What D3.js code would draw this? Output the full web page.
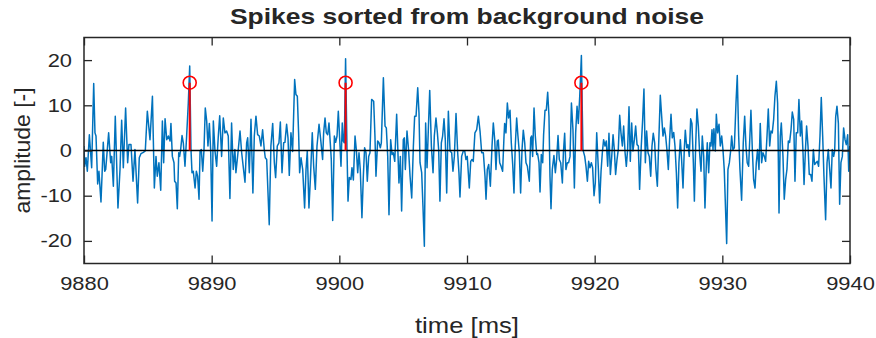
<!DOCTYPE html>
<html>
<head>
<meta charset="utf-8">
<script src="https://cdn.jsdelivr.net/npm/d3@7"></script>
<style>
  body { margin: 0; background: #fff; }
  svg { display: block; }
  text { font-family: "Liberation Sans", Arial, Helvetica, sans-serif; fill: #262626; }
</style>
</head>
<body>
<svg id="chart" width="876" height="338"></svg>
<script>
// Recorded trace (ms, arbitrary amplitude units)
const sigTime = [
  9880.00, 9880.05, 9880.16, 9880.26, 9880.42, 9880.60, 9880.76, 9880.86, 9880.94, 9881.07,
  9881.17, 9881.33, 9881.41, 9881.51, 9881.62, 9881.70, 9881.93, 9882.09, 9882.17, 9882.30,
  9882.45, 9882.66, 9882.82, 9882.95, 9883.08, 9883.26, 9883.42, 9883.52, 9883.68, 9883.84,
  9883.99, 9884.20, 9884.33, 9884.46, 9884.65, 9884.80, 9884.96, 9885.17,
  9885.36, 9885.51, 9885.64, 9885.74, 9885.87, 9886.01, 9886.14, 9886.24, 9886.35, 9886.48,
  9886.61, 9886.74, 9886.81, 9886.92, 9887.05, 9887.10, 9887.21, 9887.31, 9887.42, 9887.49,
  9887.57, 9887.68, 9887.78, 9887.91, 9888.04, 9888.17, 9888.28, 9888.38, 9888.46, 9888.56,
  9888.70, 9888.80, 9888.90, 9889.01, 9889.09, 9889.19, 9889.30, 9889.40, 9889.50, 9889.61,
  9889.71, 9889.82, 9889.92, 9890.03, 9890.13, 9890.26, 9890.39, 9890.52, 9890.63,
  9890.78, 9890.91, 9891.04, 9891.17, 9891.30, 9891.43, 9891.56, 9891.69, 9891.82, 9891.90,
  9892.06, 9892.22, 9892.35, 9892.48, 9892.61, 9892.74, 9892.82, 9892.95, 9893.08, 9893.23,
  9893.34, 9893.47, 9893.60, 9893.73, 9893.86, 9893.99, 9894.12, 9894.20, 9894.31, 9894.51,
  9894.64, 9894.78, 9894.91, 9895.01, 9895.14, 9895.27, 9895.38, 9895.51, 9895.64, 9895.74,
  9895.87, 9895.98, 9896.08, 9896.21,
  9896.34, 9896.50, 9896.60, 9896.71, 9896.81, 9896.89, 9897.00, 9897.13, 9897.28, 9897.39,
  9897.49, 9897.62, 9897.73, 9897.88, 9897.99, 9898.12, 9898.25, 9898.41, 9898.54, 9898.69,
  9898.77, 9898.88, 9898.98, 9899.09, 9899.19, 9899.29, 9899.37, 9899.48, 9899.61, 9899.71,
  9899.82, 9899.92, 9900.03, 9900.13, 9900.23, 9900.31, 9900.39, 9900.49, 9900.60, 9900.68,
  9900.78, 9900.91, 9900.99, 9901.10, 9901.23, 9901.33, 9901.44, 9901.54, 9901.64, 9901.77,
  9901.88, 9901.98, 9902.09, 9902.19, 9902.30, 9902.40, 9902.53, 9902.69, 9902.79, 9902.87,
  9903.00, 9903.11, 9903.21, 9903.29, 9903.45, 9903.58, 9903.68, 9903.79, 9903.89, 9904.02,
  9904.13, 9904.23, 9904.34, 9904.49, 9904.60, 9904.67, 9904.78, 9904.88, 9905.01, 9905.09,
  9905.17, 9905.30, 9905.43, 9905.54, 9905.67, 9905.80, 9905.90, 9906.01, 9906.14, 9906.24,
  9906.32, 9906.45, 9906.55, 9906.66, 9906.76, 9906.87, 9906.97, 9907.08, 9907.21,
  9907.34, 9907.44, 9907.57, 9907.68, 9907.78, 9907.88, 9907.99, 9908.09, 9908.20, 9908.30,
  9908.41, 9908.54, 9908.67, 9908.80, 9908.90, 9909.01, 9909.14, 9909.27, 9909.37, 9909.45,
  9909.58, 9909.71, 9909.82, 9909.92, 9910.02, 9910.18, 9910.29, 9910.39, 9910.49, 9910.62,
  9910.76, 9910.89, 9911.02, 9911.15, 9911.28, 9911.41, 9911.49, 9911.59, 9911.70, 9911.83,
  9911.96, 9912.06, 9912.17, 9912.27, 9912.37, 9912.45, 9912.56, 9912.66,
  9912.79, 9912.90, 9912.95, 9913.05, 9913.16, 9913.26, 9913.37, 9913.47, 9913.58, 9913.68,
  9913.78, 9913.89, 9913.99, 9914.10, 9914.20, 9914.31, 9914.41, 9914.52, 9914.62, 9914.73,
  9914.88, 9914.99, 9915.06, 9915.14, 9915.25, 9915.35, 9915.46, 9915.53, 9915.64, 9915.72,
  9915.82, 9915.93, 9916.00, 9916.11, 9916.21, 9916.32, 9916.42, 9916.50, 9916.58, 9916.68,
  9916.81, 9916.92, 9917.02, 9917.13, 9917.23, 9917.34, 9917.47, 9917.55, 9917.65, 9917.75,
  9917.86, 9917.96, 9918.07, 9918.18,
  9918.30, 9918.41, 9918.51, 9918.62, 9918.72, 9918.83, 9918.96, 9919.08, 9919.22, 9919.32,
  9919.43, 9919.53, 9919.63, 9919.74, 9919.84, 9919.95, 9920.05, 9920.16, 9920.29, 9920.39,
  9920.50, 9920.60, 9920.70, 9920.81, 9920.91, 9921.02, 9921.12, 9921.23, 9921.33, 9921.44,
  9921.54, 9921.64, 9921.75, 9921.85, 9921.96, 9922.06, 9922.17, 9922.27, 9922.38, 9922.48,
  9922.58, 9922.69, 9922.79, 9922.90, 9923.00, 9923.11, 9923.21, 9923.32, 9923.42, 9923.52,
  9923.65, 9923.76, 9923.86, 9923.97, 9924.07, 9924.18, 9924.28, 9924.39, 9924.49, 9924.59,
  9924.70, 9924.80, 9924.91, 9925.01, 9925.14, 9925.25, 9925.35, 9925.46, 9925.56, 9925.66,
  9925.77, 9925.87, 9925.98, 9926.08, 9926.19, 9926.29, 9926.40, 9926.50, 9926.60, 9926.71,
  9926.81, 9926.92, 9927.02, 9927.10, 9927.21, 9927.31, 9927.41, 9927.52, 9927.62, 9927.73,
  9927.81, 9927.91, 9928.01, 9928.12, 9928.22, 9928.33, 9928.43, 9928.54, 9928.64, 9928.75,
  9928.82, 9928.93, 9929.03, 9929.11,
  9929.19, 9929.27, 9929.34, 9929.45, 9929.53, 9929.63, 9929.74, 9929.84, 9929.95, 9930.05,
  9930.15, 9930.34, 9930.44, 9930.55, 9930.65, 9930.73, 9930.83, 9930.94, 9931.07, 9931.17,
  9931.28, 9931.38, 9931.51, 9931.64, 9931.75, 9931.85, 9931.95, 9932.06, 9932.16, 9932.24,
  9932.35, 9932.45, 9932.56, 9932.66, 9932.76, 9932.87, 9932.97, 9933.08, 9933.18, 9933.29,
  9933.39, 9933.50, 9933.60, 9933.71, 9933.81, 9933.91, 9934.02, 9934.12, 9934.23, 9934.33,
  9934.44, 9934.54, 9934.62,
  9934.75, 9934.85, 9934.96, 9935.06, 9935.17, 9935.27, 9935.38, 9935.48, 9935.59, 9935.69,
  9935.79, 9935.90, 9936.00, 9936.11, 9936.21, 9936.32, 9936.40, 9936.50, 9936.60, 9936.71,
  9936.81, 9936.92, 9937.02, 9937.13, 9937.23, 9937.34, 9937.44, 9937.54, 9937.65, 9937.75,
  9937.86, 9937.96, 9938.09, 9938.20, 9938.30, 9938.41, 9938.51, 9938.61, 9938.72, 9938.80,
  9938.88, 9938.98, 9939.09, 9939.19, 9939.29, 9939.40, 9939.50, 9939.61, 9939.71, 9939.82,
  9939.90, 9939.98
];
const sigAmp = [
  1.0, -3.5, -1.6, -4.6, 3.5, -3.8, 14.8, 3.9, 3.2, -7.4,
  -4.6, -11.4, -5.7, 1.8, -4.6, -4.2, 3.9, -2.7, -1.3, -7.9,
  7.6, -12.7, -4.2, 6.7, -3.8, 9.4, -2.7, 1.3, 1.3, -6.8,
  0.2, -11.6, -1.6, -0.7, -0.4, -0.1, 8.7, 2.4,
  12.0, -8.3, -1.3, -5.7, -2.7, -8.8, 6.5, -2.7, 7.0, 2.4,
  3.2, 2.1, 6.0, -1.3, -2.7, -6.8, -7.2, -12.9, -0.5, -1.3,
  0.2, 3.3, 1.7, -3.5, 3.2, 10.5, 18.7, 0.2, -4.9, -4.6,
  -8.3, -4.6, -5.7, -10.8, -0.1, 0.2, -4.6, 0.2, 9.4, 6.5,
  1.0, 6.0, 0.2, -15.6, 6.5, -0.1, -3.5, 3.2, 7.7,
  -1.3, 7.2, 3.9, 4.3, 3.2, -10.6, 6.1, -4.2, 0.2, -4.9,
  -0.5, 4.3, -0.5, -3.8, -7.0, 1.7, 2.8, -4.9, 6.9, -9.4,
  3.2, 7.6, 3.5, 3.2, 1.0, 4.6, 0.2, -1.6, -2.0, -16.4,
  1.0, 6.0, -2.7, -6.0, 1.0, 1.7, 6.3, -4.9, 1.7, 1.8,
  5.8, 2.8, -5.5, 3.9,
  -0.2, 15.7, 12.4, 12.0, 3.9, -4.9, -1.6, -4.2, -12.7, -4.2,
  -0.1, -12.7, -6.4, 3.9, -3.5, -8.6, 1.0, 5.8, 2.4, -2.0,
  3.9, 7.2, 3.9, 3.5, 6.1, 1.7, -2.0, -15.5, 3.2, 1.8,
  3.2, 8.7, 2.4, -3.5, 6.1, 2.1, 1.7, 20.3, 0.2, -11.2,
  -6.0, -6.4, -3.8, -6.5, 3.2, 0.2, -4.9, -0.5, -4.2, -14.9,
  -5.7, 0.6, -0.5, -6.8, -1.3, -0.5, 11.3, 10.9, 3.2, -5.7,
  2.1, 1.7, 0.6, 1.7, 16.1, 5.4, 5.0, -1.3, -14.2, 2.4,
  -0.9, -0.5, -2.4, 8.0, -1.3, -7.2, -1.3, -13.4, 2.4, 2.8,
  -4.2, 4.3, -0.1, -5.7, -10.5, 1.0, 7.6, 7.6, 13.9, 8.3,
  -2.7, -4.9, -12.3, -21.2, 6.1, -3.8, 4.6, 13.3, 1.0,
  -4.9, 3.2, 7.2, 3.9, 0.2, -11.2, 1.7, 3.2, 7.0, 2.4,
  -9.4, 8.7, -0.1, -0.5, -4.6, -1.3, 8.2, -0.5, -4.9, -10.3,
  -1.3, -0.1, -0.1, -2.0, -1.3, -8.3, -2.4, -2.0, -2.4, 3.9,
  4.6, 7.6, 4.3, -0.5, -0.5, -5.7, -10.8, -4.2, -3.1, -7.9,
  1.0, 6.1, 2.4, -4.2, 2.1, 2.3, -2.7, -3.4,
  -4.6, 3.2, 6.0, 3.9, 10.5, 7.2, 8.9, 1.7, -3.1, -9.4,
  1.0, 7.2, 3.2, -0.5, -9.4, 0.2, 4.5, 1.7, -2.7, -3.5,
  -6.8, 2.8, 3.2, -1.3, 9.4, 3.2, -0.9, -0.7, -2.7, -9.2,
  -0.9, -2.7, 3.5, 8.9, 8.9, 12.9, 7.6, -5.7, -12.9, -4.2,
  -1.1, -4.9, -2.0, 3.3, -2.0, -2.7, -7.2, -0.5, 3.8, -4.2,
  -2.7, -2.7, -1.3, 10.5,
  4.6, -8.3, 3.9, 9.8, 6.0, 12.0, 21.0, 0.2, -1.3, -3.5,
  -6.8, -2.4, -3.8, -2.7, -3.8, -10.0, -7.2, 3.9, -4.2, -11.6,
  -4.6, -0.5, 2.4, 1.0, 2.1, -3.5, 3.8, -5.3, -1.6, 3.5,
  0.2, -5.3, -2.0, 0.2, 7.8, 3.9, 1.0, 5.4, -0.4, -3.5,
  0.2, 9.7, -2.4, 6.1, -0.1, 2.4, 5.4, 1.3, 1.0, -8.6,
  1.0, 6.9, 13.6, -2.7, 4.3, -0.5, -1.3, -5.7, 1.0, 3.8,
  1.7, -4.2, -7.9, 1.0, 12.2, 7.5, 3.2, 5.0, 3.2, 0.2,
  -4.2, 2.4, 8.0, 2.8, 4.0, 1.0, -4.9, -12.7, -2.7, 2.4,
  -2.0, -8.3, 0.2, 4.5, 0.6, 1.3, -1.3, 7.0, 6.0, -2.7,
  -11.2, 1.0, 9.2, 5.4, -0.5, -4.6, 3.2, -1.3, -12.7, -2.7,
  1.7, -4.9, 1.7, 1.0,
  4.6, 0.2, 4.8, -0.1, 8.0, 3.9, 5.8, 1.0, 3.2, 0.2,
  -4.2, -20.6, -4.2, -2.7, -0.1, 3.2, 0.2, 0.6, 10.5, 16.6,
  3.2, -4.2, -11.0, 1.7, 7.6, 1.0, -2.7, -3.5, 3.2, 8.9,
  0.2, -6.4, -8.3, -2.7, 0.2, -4.2, 6.0, -2.7, -0.5, -1.3,
  -2.4, 3.2, 9.2, 1.0, 4.3, 3.9, 6.9, 12.0, 15.3, 10.5,
  -13.8, 3.2, 6.1,
  -1.3, -10.8, -6.4, -4.2, 2.1, 1.8, 4.6, 8.5, 6.9, -6.8,
  3.9, 3.9, 11.3, 3.2, 6.5, -0.5, -7.5, -0.5, 5.4, 1.0,
  -5.3, -5.3, -6.8, 0.2, -3.1, -2.7, -2.4, -3.5, 3.2, 11.7,
  3.2, -5.7, -15.3, -2.7, 0.2, -4.2, -8.3, 0.2, -1.3, -0.1,
  7.5, 9.8, 6.0, -11.9, -2.7, -1.3, 5.0, 2.4, 1.3, 3.5,
  -4.6, 1.0
];

// Detected spike times and the marker height used for the stems
const spikeTime = [9888.28, 9900.49, 9918.96];
const spikeAmp = [15, 15, 15];

const xTicks = [9880, 9890, 9900, 9910, 9920, 9930, 9940];
const yTicks = [-20, -10, 0, 10, 20];
const xDomain = [9880, 9940];
const yDomain = [-25, 25];

const chartTitle = "Spikes sorted from background noise";
const xLabel = "time [ms]";
const yLabel = "amplitude [-]";

const W = 876, H = 338;
const m = { left: 84, right: 26, top: 37.5, bottom: 74.5 };
const pw = W - m.left - m.right, ph = H - m.top - m.bottom;

const svg = d3.select("#chart");
const x = d3.scaleLinear().domain(xDomain).range([0, pw]);
const y = d3.scaleLinear().domain(yDomain).range([ph, 0]);

const g = svg.append("g").attr("transform", `translate(${m.left},${m.top})`);

g.append("clipPath").attr("id", "plotClip")
  .append("rect").attr("width", pw).attr("height", ph);

const plot = g.append("g").attr("clip-path", "url(#plotClip)");

const signal = sigTime.map((t, i) => [t, sigAmp[i]]);
plot.append("path")
  .datum(signal)
  .attr("fill", "none")
  .attr("stroke", "#0072BD")
  .attr("stroke-width", 1.5)
  .attr("stroke-linejoin", "round")
  .attr("d", d3.line().x(d => x(d[0])).y(d => y(d[1])));

// stem baseline
plot.append("line")
  .attr("x1", 0).attr("x2", pw)
  .attr("y1", y(0)).attr("y2", y(0))
  .attr("stroke", "#000").attr("stroke-width", 1.3);

const spikes = spikeTime.map((t, i) => ({ t, a: spikeAmp[i] }));
plot.selectAll("line.stem").data(spikes).join("line")
  .attr("class", "stem")
  .attr("x1", d => x(d.t)).attr("x2", d => x(d.t))
  .attr("y1", y(0)).attr("y2", d => y(d.a))
  .attr("stroke", "#FF0000").attr("stroke-width", 2);
plot.selectAll("circle.stem").data(spikes).join("circle")
  .attr("class", "stem")
  .attr("cx", d => x(d.t)).attr("cy", d => y(d.a))
  .attr("r", 6.5)
  .attr("fill", "none").attr("stroke", "#FF0000").attr("stroke-width", 1.6);

// axes: box with inward ticks on all four sides
const tick = 8;
const fontSize = 19;
const widen = 1.15;
const fmt = d => String(d); // plain hyphen for negatives
function styleAxis(sel) {
  sel.select(".domain").remove();
  sel.selectAll(".tick line").attr("stroke", "#262626").attr("stroke-width", 1.3);
  sel.selectAll(".tick text").attr("fill", "#262626").attr("font-size", fontSize)
    .attr("font-family", '"Liberation Sans", Arial, Helvetica, sans-serif')
    .each(function () {
      const len = this.getComputedTextLength();
      if (len > 0) d3.select(this).attr("textLength", len * widen).attr("lengthAdjust", "spacingAndGlyphs");
    });
}
g.append("g").attr("transform", `translate(0,${ph})`)
  .call(d3.axisBottom(x).tickValues(xTicks).tickFormat(fmt).tickSizeInner(-tick).tickSizeOuter(0).tickPadding(13))
  .call(styleAxis);
g.append("g")
  .call(d3.axisTop(x).tickValues(xTicks).tickFormat("").tickSizeInner(-tick).tickSizeOuter(0))
  .call(styleAxis);
g.append("g")
  .call(d3.axisLeft(y).tickValues(yTicks).tickFormat(fmt).tickSizeInner(-tick).tickSizeOuter(0).tickPadding(12))
  .call(styleAxis);
g.append("g").attr("transform", `translate(${pw},0)`)
  .call(d3.axisRight(y).tickValues(yTicks).tickFormat("").tickSizeInner(-tick).tickSizeOuter(0))
  .call(styleAxis);

g.append("rect")
  .attr("width", pw).attr("height", ph)
  .attr("fill", "none").attr("stroke", "#262626").attr("stroke-width", 1.5);

svg.append("text")
  .attr("x", m.left + pw / 2).attr("y", 24)
  .attr("text-anchor", "middle")
  .attr("font-size", 22).attr("font-weight", "bold").attr("fill", "#000")
  .attr("textLength", 474).attr("lengthAdjust", "spacingAndGlyphs")
  .text(chartTitle);

svg.append("text")
  .attr("x", m.left + pw / 2).attr("y", 333)
  .attr("text-anchor", "middle")
  .attr("font-size", 22)
  .attr("textLength", 104).attr("lengthAdjust", "spacingAndGlyphs")
  .text(xLabel);

svg.append("text")
  .attr("transform", `translate(30,${m.top + ph / 2}) rotate(-90)`)
  .attr("text-anchor", "middle")
  .attr("font-size", 22)
  .attr("textLength", 126).attr("lengthAdjust", "spacingAndGlyphs")
  .text(yLabel);
</script>
</body>
</html>
